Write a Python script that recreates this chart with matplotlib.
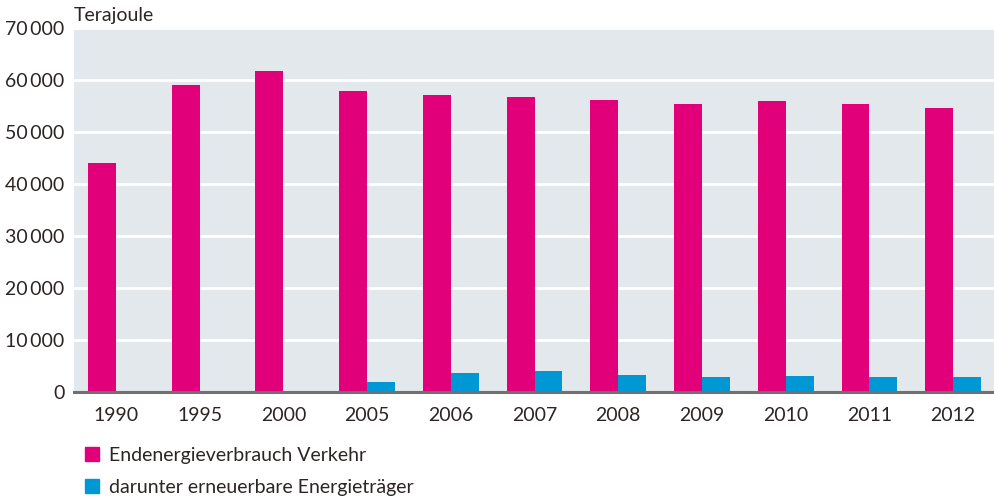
import matplotlib.pyplot as plt
from matplotlib.patches import Patch
from matplotlib.ticker import FuncFormatter
import numpy as np

plt.rcParams['font.family'] = ['Lato', 'DejaVu Sans']

jahre = ['1990', '1995', '2000', '2005', '2006', '2007', '2008', '2009', '2010', '2011', '2012']
verkehr = [44000, 59000, 61700, 57900, 57100, 56700, 56100, 55400, 55900, 55400, 54600]
erneuerbar = [0, 0, 0, 1900, 3600, 4000, 3300, 2900, 3100, 2900, 2900]

pink = '#e2007a'
blau = '#0098d4'
text_farbe = '#2b2523'

fig = plt.figure(figsize=(9.95, 4.99), dpi=100)
ax = fig.add_axes([0.0744, 0.2144, 0.9256, 0.7295])

x = np.arange(len(jahre))
w = 1 / 3
ax.bar(x - w / 2, verkehr, w, color=pink, zorder=3)
ax.bar(x + w / 2, erneuerbar, w, color=blau, zorder=3)

ax.set_facecolor('#e3e8ec')
ax.set_xlim(-0.5, len(jahre) - 0.5)
ax.set_ylim(0, 70000)
ax.set_yticks(range(0, 70001, 10000))
ax.yaxis.set_major_formatter(FuncFormatter(
    lambda v, p: '0' if v == 0 else f'{int(v):,}'.replace(',', '\u2009')))
ax.set_xticks(x)
ax.set_xticklabels(jahre)
ax.grid(axis='y', color='white', linewidth=2, zorder=1)
ax.tick_params(length=0, labelsize=14, colors=text_farbe)
ax.tick_params(axis='x', pad=11)
ax.tick_params(axis='y', pad=7)
for s in ['top', 'right', 'left']:
    ax.spines[s].set_visible(False)
ax.spines['bottom'].set_color('#707070')
ax.spines['bottom'].set_linewidth(2.2)
ax.spines['bottom'].set_zorder(4)

ax.text(0.0, 1.01, 'Terajoule', transform=ax.transAxes, fontsize=14,
        color=text_farbe, ha='left', va='bottom')

handles = [Patch(color=pink), Patch(color=blau)]
labels = ['Endenergieverbrauch Verkehr', 'darunter erneuerbare Energieträger']
fig.legend(handles, labels, loc='upper left', bbox_to_anchor=(0.068, 0.14),
           frameon=False, fontsize=14, handlelength=0.7, handleheight=0.7,
           handletextpad=0.55, labelspacing=0.78, labelcolor=text_farbe)

fig.savefig('out.png', dpi=100)
